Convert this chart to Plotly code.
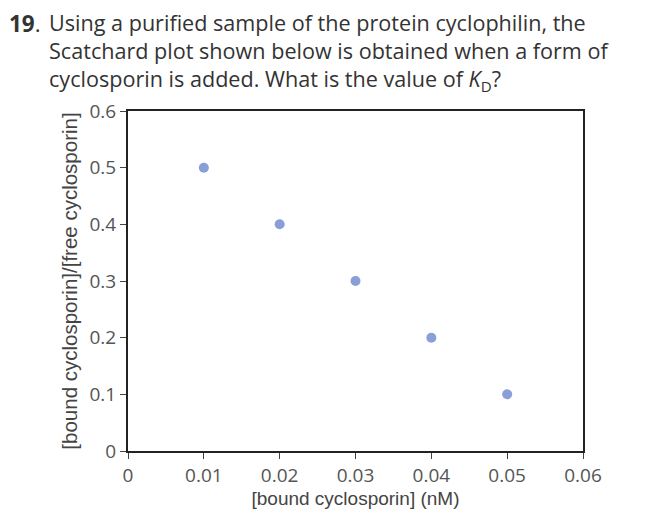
import plotly.graph_objects as go

bound = [0.01, 0.02, 0.03, 0.04, 0.05]
ratio = [0.5, 0.4, 0.3, 0.2, 0.1]
x_ticks = [0, 0.01, 0.02, 0.03, 0.04, 0.05, 0.06]
x_tick_labels = ["0", "0.01", "0.02", "0.03", "0.04", "0.05", "0.06"]
y_ticks = [0, 0.1, 0.2, 0.3, 0.4, 0.5, 0.6]
y_tick_labels = ["0", "0.1", "0.2", "0.3", "0.4", "0.5", "0.6"]

fig = go.Figure()
fig.add_trace(go.Scatter(
    x=bound, y=ratio, mode="markers",
    marker=dict(size=10, color="#8a9fd8"),
    showlegend=False, cliponaxis=False,
))

tick_font = dict(family="Open Sans, sans-serif", size=19, color="#555")
axis_common = dict(
    showgrid=False, zeroline=False, showline=True, linecolor="#222",
    linewidth=2, mirror=True, ticks="outside", ticklen=6, tickcolor="#444",
    tickwidth=1, tickfont=tick_font,
)
fig.update_xaxes(range=[0, 0.06], tickvals=x_ticks, ticktext=x_tick_labels,
                 title=dict(text="[bound cyclosporin] (nM)",
                            font=dict(family="Liberation Sans, Arial, sans-serif", size=19, color="#444"),
                            standoff=4),
                 **axis_common)
fig.update_yaxes(range=[0, 0.6], tickvals=y_ticks, ticktext=y_tick_labels,
                 title=dict(text="[bound cyclosporin]/[free cyclosporin]",
                            font=dict(family="Liberation Sans, Arial, sans-serif", size=20.5, color="#444"),
                            standoff=6),
                 **axis_common)

title_font = dict(family="Open Sans, sans-serif", size=21.6, color="#333")
question = ("Using a purified sample of the protein cyclophilin, the<br>"
            "Scatchard plot shown below is obtained when a form of<br>"
            "cyclosporin is added. What is the value of <i>K</i><sub>D</sub>?")
W, H, L, R, T, B = 647, 514, 120, 72, 103, 71
pw, ph = W - L - R, H - T - B

def px(x):
    return (x - L) / pw

def py(y):
    return (H - y - B) / ph

fig.add_annotation(text="<b>19</b>.", x=px(0), y=py(-1), xref="paper", yref="paper",
                   showarrow=False, xanchor="left", yanchor="top",
                   font=dict(family="Open Sans, sans-serif", size=22.5, color="#333"),
                   borderpad=0)
fig.add_annotation(text=question, x=px(40), y=py(-1), xref="paper", yref="paper",
                   showarrow=False, xanchor="left", yanchor="top", align="left",
                   font=title_font, borderpad=0)

fig.update_layout(
    width=W, height=H, margin=dict(l=L, r=R, t=T, b=B),
    plot_bgcolor="white", paper_bgcolor="white",
)
fig.write_html("out.html")
